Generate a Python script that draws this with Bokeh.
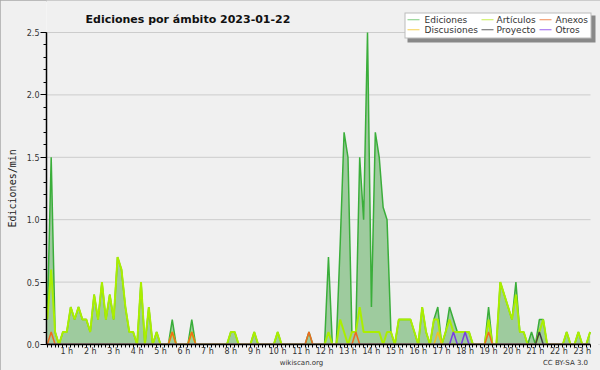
import math
from bokeh.plotting import figure
from bokeh.models import (Range1d, FixedTicker, PrintfTickFormatter, LinearAxis, Title,
                          Label, BoxAnnotation, ColumnDataSource)
from bokeh.embed import file_html
from bokeh.resources import INLINE

# ---- data: edits per minute, 10-minute slots (index 0 = 00:00) ----
slots = list(range(144))

ediciones = [0.2, 1.5, 0.1, 0, 0.1, 0.1,
             0.3, 0.2, 0.3, 0.2, 0.2, 0.1,
             0.4, 0.2, 0.5, 0.2, 0.4, 0.2,
             0.7, 0.6, 0.3, 0.1, 0.1, 0,
             0.5, 0, 0.3, 0, 0.1, 0,
             0, 0, 0.2, 0, 0, 0,
             0, 0.2, 0, 0, 0, 0,
             0, 0, 0, 0, 0, 0.1,
             0.1, 0, 0, 0, 0, 0.1,
             0, 0, 0, 0, 0, 0.1,
             0, 0, 0, 0, 0, 0,
             0, 0.1, 0, 0, 0, 0,
             0.7, 0, 0, 0.8, 1.7, 1.5,
             0.1, 0.1, 1.5, 1.0, 2.5, 0.3,
             1.7, 1.5, 1.1, 1.0, 0.1, 0,
             0.2, 0.2, 0.2, 0.2, 0.1, 0,
             0.3, 0.1, 0, 0.2, 0.3, 0,
             0.1, 0.3, 0.2, 0.1, 0.1, 0.1,
             0.1, 0, 0, 0, 0, 0.3,
             0, 0, 0.5, 0.4, 0.3, 0.2,
             0.5, 0.1, 0.1, 0, 0.1, 0,
             0.2, 0.2, 0, 0, 0, 0,
             0, 0.1, 0, 0, 0.1, 0,
             0, 0.1, 0, 0, 0, 0]

articulos = [0.2, 0.6, 0.1, 0, 0.1, 0.1,
             0.3, 0.2, 0.3, 0.2, 0.2, 0.1,
             0.4, 0.2, 0.5, 0.2, 0.4, 0.2,
             0.7, 0.6, 0.3, 0.1, 0.1, 0,
             0.5, 0, 0.3, 0, 0.1, 0,
             0, 0, 0.1, 0, 0, 0,
             0, 0.1, 0, 0, 0, 0,
             0, 0, 0, 0, 0, 0.1,
             0.1, 0, 0, 0, 0, 0.1,
             0, 0, 0, 0, 0, 0.1,
             0, 0, 0, 0, 0, 0,
             0, 0, 0, 0, 0, 0,
             0.1, 0, 0, 0.2, 0.1, 0,
             0.1, 0.1, 0.3, 0.1, 0.1, 0.1,
             0.1, 0.1, 0, 0.1, 0.1, 0,
             0.2, 0.2, 0.2, 0.2, 0.1, 0,
             0.3, 0.1, 0, 0.2, 0.2, 0,
             0.1, 0.2, 0.1, 0.1, 0.1, 0.1,
             0.1, 0, 0, 0, 0, 0.2,
             0, 0, 0.5, 0.4, 0.3, 0.2,
             0.4, 0.1, 0.1, 0, 0, 0,
             0.1, 0.2, 0, 0, 0, 0,
             0, 0.1, 0, 0, 0.1, 0,
             0, 0.1, 0, 0, 0, 0]

anexos_at = [1, 32, 37, 67, 79, 113]
discusiones_at = [100]
proyecto_at = [126]
otros_at = [104, 107]

anexos = [0.1 if i in anexos_at else 0 for i in slots]
discusiones = [0.1 if i in discusiones_at else 0 for i in slots]
proyecto = [0.1 if i in proyecto_at else 0 for i in slots]
otros = [0.1 if i in otros_at else 0 for i in slots]

hours = list(range(1, 24))
hour_labels = [f"{h} h" for h in hours]
y_ticks = [0.0, 0.5, 1.0, 1.5, 2.0, 2.5]
y_minor = [round(0.1 * k, 1) for k in range(26)]

series_names = ["Ediciones", "Artículos", "Anexos", "Discusiones", "Proyecto", "Otros"]
series_colors = ["#3aae3a", "#aaee00", "#f06a20", "#f0c020", "#404040", "#7a3ee0"]
legend_colors = ["#7fcc7f", "#c8ee50", "#f08a55", "#f4d050", "#606060", "#9a60ee"]

# ---- geometry ----
W, H = 600, 370
FL, FB = 46, 26              # left / bottom borders; frame runs to top and right edges
FBOT = H - FB                # canvas y of frame bottom (value 0)
X_LO, X_HI = -0.2, 139.1     # visible slot window (plot area 46..590 px)
PX_X = 544 / (X_HI - X_LO)
PX_Y = 312 / 2.5             # value 2.5 sits at canvas y 32

n_vis = 140                  # slots that fall inside the visible window
vis = slice(0, n_vis)

p = figure(width=W, height=H, output_backend="svg", toolbar_location=None, title=None,
           x_range=Range1d(X_LO, X_LO + (W - FL) / PX_X), y_range=Range1d(0, FBOT / PX_Y),
           min_border_left=FL, min_border_right=0, min_border_top=0, min_border_bottom=FB)
p.background_fill_color = "#f0f0f0"
p.border_fill_color = "#f0f0f0"
p.outline_line_color = None
p.xgrid.grid_line_color = None
p.ygrid.grid_line_color = None
p.styles = {"outline": "2px solid #a8a8a8", "outline-offset": "-2px"}

# y axis
p.yaxis.ticker = FixedTicker(ticks=y_ticks, minor_ticks=y_minor)
p.yaxis.formatter = PrintfTickFormatter(format="%.1f")
p.yaxis.bounds = (0, 2.5)
p.yaxis.major_tick_out = 6
p.yaxis.major_tick_in = 0
p.yaxis.minor_tick_out = 3
p.yaxis.minor_tick_in = 0
p.yaxis.major_label_standoff = 1

# x axis: a tick every 10 minutes, hour labels
p.xaxis.ticker = FixedTicker(ticks=slots[vis], minor_ticks=[])
overrides = {i: "" for i in slots[vis]}
for h, lab in zip(hours, hour_labels):
    overrides[6 * h - 1] = lab
p.xaxis.major_label_overrides = overrides
p.xaxis.bounds = (X_LO, X_HI)
p.xaxis.major_tick_out = 3
p.xaxis.major_tick_in = 0
p.xaxis.major_label_standoff = -1

for ax in (p.xaxis, p.yaxis):
    ax.axis_line_color = "black"
    ax.axis_line_width = 1.5
    ax.major_tick_line_color = "black"
    ax.minor_tick_line_color = "black"
    ax.major_label_text_font = "DejaVu Sans"
    ax.major_label_text_font_size = "8px"
    ax.major_label_text_color = "#333333"
p.xaxis.minor_tick_line_color = None

# y axis title (left panel, rotated)
p.add_layout(Title(text="Ediciones/min", align="left", offset=117, vertical_align="middle",
                   standoff=10, text_font="DejaVu Sans Mono", text_font_size="10px",
                   text_font_style="normal", text_color="#222222"), "left")

# footer texts as a second, bare axis below the hour axis
def px_to_x(px):
    return round(X_LO + (px - FL) / PX_X, 3)

fx_wiki, fx_cc = px_to_x(301), px_to_x(565)
foot = LinearAxis(ticker=FixedTicker(ticks=[fx_wiki, fx_cc], minor_ticks=[]),
                  major_label_overrides={fx_wiki: "wikiscan.org", fx_cc: "CC BY-SA 3.0"},
                  axis_line_color=None, major_tick_line_color=None, minor_tick_line_color=None,
                  major_tick_out=0, major_tick_in=0, major_label_standoff=0,
                  major_label_text_font="DejaVu Sans", major_label_text_font_size="7px",
                  major_label_text_color="#333333")
p.add_layout(foot, "below")

# horizontal grid lines, limited to the plot window
p.segment(x0=X_LO, x1=X_HI, y0=y_ticks[1:], y1=y_ticks[1:], line_color="#cccccc",
          line_width=1, level="underlay")

# series
src = ColumnDataSource(dict(slot=slots[vis], ed=ediciones[vis], art=articulos[vis],
                            anx=anexos[vis], dis=discusiones[vis], pro=proyecto[vis],
                            otr=otros[vis]))
p.varea(x="slot", y1=0, y2="ed", source=src, fill_color="#9ecb9e")
p.line("slot", "ed", source=src, line_color=series_colors[0], line_width=1.5)
p.line("slot", "art", source=src, line_color=series_colors[1], line_width=2)
p.line("slot", "anx", source=src, line_color=series_colors[2], line_width=1.5)
p.line("slot", "dis", source=src, line_color=series_colors[3], line_width=1.5)
p.line("slot", "pro", source=src, line_color=series_colors[4], line_width=1.5)
p.line("slot", "otr", source=src, line_color=series_colors[5], line_width=1.5)

# ---- annotations inside the (extended) frame ----
def sx(cx):
    return cx - FL

def sy(cy):
    return FBOT - cy

def box(l, t, r, b, color):
    p.add_layout(BoxAnnotation(left=sx(l), right=sx(r), top=sy(t), bottom=sy(b),
                               left_units="screen", right_units="screen",
                               top_units="screen", bottom_units="screen",
                               fill_color=color, fill_alpha=1, line_color=None))

def label(text, cx, cy, size, font="DejaVu Sans", style="normal", align="left",
          baseline="alphabetic", color="#222222"):
    p.add_layout(Label(x=sx(cx), y=sy(cy), x_units="screen", y_units="screen", text=text,
                       text_font=font, text_font_size=size, text_font_style=style,
                       text_align=align, text_baseline=baseline, text_color=color))

label("Ediciones por ámbito  2023-01-22", 85, 18.5, "11px", style="bold", color="#111111")

# legend (drawn by hand: shadow, box, samples, texts)
box(407, 15, 595, 42, "#888888")
box(404, 12, 591, 38, "#bbbbbb")
box(405, 13, 590, 37, "#ffffff")
cols = [(407, 424), (481, 496), (539, 555)]
rows = [19.3, 29.3]
order = [(0, 0), (0, 1), (0, 2), (1, 0), (1, 1), (1, 2)]  # (row, col)
for k, (r, c) in enumerate(order):
    gx, tx = cols[c]
    y = rows[r]
    box(gx, y - 0.5, gx + 12, y + 0.5, legend_colors[k])
    label(series_names[k], tx, y, "9px", baseline="middle", color="#333333")

open("out.html", "w").write(file_html(p, INLINE))
